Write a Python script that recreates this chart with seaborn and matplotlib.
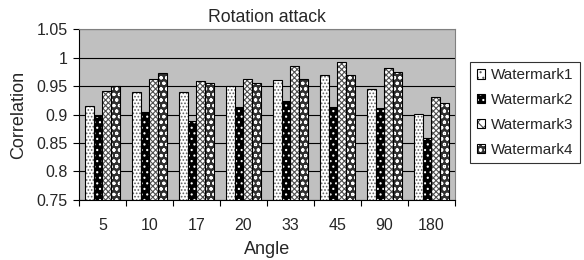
import numpy as np
import pandas as pd
import matplotlib
matplotlib.use('Agg')
import matplotlib.pyplot as plt
import seaborn as sns
from matplotlib.patches import Rectangle, Patch
from matplotlib.legend_handler import HandlerTuple

angles = ['5', '10', '17', '20', '33', '45', '90', '180']
watermark1 = [0.915, 0.939, 0.939, 0.950, 0.961, 0.970, 0.945, 0.901]
watermark2 = [0.897, 0.904, 0.889, 0.914, 0.924, 0.914, 0.911, 0.858]
watermark3 = [0.942, 0.962, 0.959, 0.962, 0.986, 0.992, 0.981, 0.930]
watermark4 = [0.950, 0.973, 0.955, 0.955, 0.963, 0.970, 0.975, 0.920]
series_names = ['Watermark1', 'Watermark2', 'Watermark3', 'Watermark4']
yticks = [0.75, 0.8, 0.85, 0.9, 0.95, 1.0, 1.05]

df = pd.DataFrame({
    'Angle': angles * 4,
    'Correlation': watermark1 + watermark2 + watermark3 + watermark4,
    'Series': [n for n in series_names for _ in angles],
})

# face colour, hatch colour, hatch pattern (Excel-like fills)
styles = {
    'Watermark1': ('white', '#606060', '.....'),
    'Watermark2': ('black', 'white', '...'),
    'Watermark3': ('white', '#505050', 'xxxxxx'),
    'Watermark4': ('#303030', 'white', 'ooo'),
}

sns.set_style('white')
plt.rcParams['font.family'] = ['Liberation Sans', 'DejaVu Sans']
plt.rcParams['hatch.linewidth'] = 0.8

fig = plt.figure(figsize=(5.84, 2.6), dpi=100)
ax = fig.add_axes([0.135, 0.231, 0.644, 0.657])
sns.barplot(data=df, x='Angle', y='Correlation', hue='Series', order=angles,
            hue_order=series_names, width=0.75, legend=False, ax=ax,
            palette=['white'] * 4, saturation=1)

for name, cont in zip(series_names, ax.containers):
    face, hcol, hatch = styles[name]
    for bar in cont:
        bar.set_facecolor(face)
        bar.set_edgecolor(hcol)
        bar.set_hatch(hatch)
        bar.set_linewidth(0)
        ax.add_patch(Rectangle(bar.get_xy(), bar.get_width(), bar.get_height(),
                               fill=False, edgecolor='black', linewidth=0.8, zorder=bar.get_zorder() + 0.1))

ax.set_facecolor('#C0C0C0')
ax.set_ylim(0.75, 1.05)
ax.set_xlim(-0.5, len(angles) - 0.5)
ax.set_yticks(yticks)
ax.set_yticklabels([f'{v:g}' for v in yticks], fontsize=11.5)
ax.yaxis.grid(True, color='black', linewidth=0.8)
ax.set_axisbelow(True)

ax.set_xticks(range(len(angles)))
ax.set_xticklabels(angles, fontsize=11.5)
ax.set_xticks(np.arange(-0.5, len(angles), 1), minor=True)
ax.tick_params(axis='x', which='major', length=0, pad=13)
ax.tick_params(axis='x', which='minor', length=4, width=0.8, color='black', direction='out', bottom=True)
ax.tick_params(axis='y', length=4, width=0.8, color='black', direction='out', left=True, pad=4)

for side in ['left', 'bottom']:
    ax.spines[side].set_color('black')
    ax.spines[side].set_linewidth(0.8)
for side in ['top', 'right']:
    ax.spines[side].set_color('#808080')
    ax.spines[side].set_linewidth(0.8)

ax.set_title('Rotation attack', fontsize=12.7, pad=5)
ax.set_xlabel('Angle', fontsize=13, labelpad=6)
ax.set_ylabel('Correlation', fontsize=13, labelpad=7)

handles = []
for name in series_names:
    face, hcol, hatch = styles[name]
    fill = Patch(facecolor=face, edgecolor=hcol, hatch=hatch[:3], linewidth=0)
    outline = Patch(facecolor='none', edgecolor='black', linewidth=0.8)
    handles.append((fill, outline))
leg = fig.legend(handles=handles, labels=series_names, loc='upper left',
                 bbox_to_anchor=(0.805, 0.763),
                 handler_map={tuple: HandlerTuple(ndivide=1, pad=0)},
                 fontsize=11, frameon=True, fancybox=False, edgecolor='black',
                 handlelength=0.55, handleheight=0.55, handletextpad=0.35,
                 labelspacing=0.7, borderpad=0.45, borderaxespad=0)
leg.get_frame().set_linewidth(0.8)

fig.savefig('out.png', dpi=100)
